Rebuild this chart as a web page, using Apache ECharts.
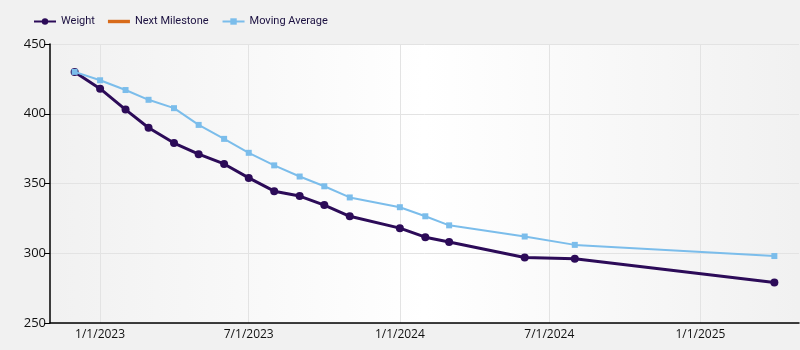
<!DOCTYPE html>
<html>
<head>
<meta charset="utf-8">
<script src="https://cdn.jsdelivr.net/npm/echarts@6/dist/echarts.min.js"></script>
<style>
  html, body { margin: 0; padding: 0; background: #f1f1f1; }
  #chart { width: 800px; height: 350px; }
</style>
</head>
<body>
<div id="chart"></div>
<script>
// Weigh-in dates and readings
const dates = [
  '2022-12-01', '2023-01-01', '2023-02-01', '2023-03-01', '2023-04-01', '2023-05-01',
  '2023-06-01', '2023-07-01', '2023-08-01', '2023-09-01', '2023-10-01', '2023-11-01',
  '2024-01-01', '2024-02-01', '2024-03-01', '2024-06-01', '2024-08-01', '2025-04-01'
];
const weight = [430, 418, 403, 390, 379, 371, 364, 354, 344.5, 341, 334.5, 326.5, 318, 311.5, 308, 297, 296, 279];
const movingAverage = [430, 424, 417, 410, 404, 392, 382, 372, 363, 355, 348, 340, 333, 326.5, 320, 312, 306, 298];
const nextMilestone = [];

// Axis ranges and labelled dates
const xMin = '2022-11-01';
const xMax = '2025-05-01';
const xTicks = ['2023-01-01', '2023-07-01', '2024-01-01', '2024-07-01', '2025-01-01'];
const yMin = 250, yMax = 450, yStep = 50;

const font = 'Open Sans, Noto Sans, sans-serif';
const legendFont = 'Roboto, Open Sans, sans-serif';
const toTime = s => new Date(s + 'T00:00:00').getTime();
const pair = (vals) => dates.map((d, i) => [toTime(d), vals[i]]);
const fmtDate = v => { const d = new Date(v); return (d.getMonth() + 1) + '/' + d.getDate() + '/' + d.getFullYear(); };

const chart = echarts.init(document.getElementById('chart'), null, { renderer: 'canvas' });
chart.setOption({
  backgroundColor: '#f1f1f1',
  animation: false,
  textStyle: { fontFamily: font },
  legend: {
    left: 33, top: 16, padding: 0,
    itemWidth: 22, itemHeight: 8, itemGap: 13,
    textStyle: { fontSize: 11, color: '#1b1040', fontFamily: legendFont },
    data: [
      'Weight',
      // plain bar swatch for the milestone line
      { name: 'Next Milestone', icon: 'path://M0,0L22,0L22,3.4L0,3.4Z' },
      'Moving Average'
    ]
  },
  grid: {
    left: 50, right: 1, top: 44, bottom: 27,
    show: true, borderWidth: 0,
    backgroundColor: new echarts.graphic.LinearGradient(0, 0, 1, 0, [
      { offset: 0, color: '#f1f1f1' },
      { offset: 0.5, color: '#ffffff' },
      { offset: 1, color: '#f1f1f1' }
    ])
  },
  xAxis: {
    type: 'value',
    min: toTime(xMin), max: toTime(xMax),
    axisLine: { show: true, lineStyle: { color: '#000', width: 1.5 } },
    axisTick: { show: false, customValues: xTicks.map(toTime) },
    axisLabel: {
      customValues: xTicks.map(toTime),
      color: '#111', fontSize: 12, fontFamily: font, margin: 6,
      formatter: fmtDate
    },
    splitLine: { show: true, lineStyle: { color: '#e3e3e3', width: 1 } }
  },
  yAxis: {
    type: 'value',
    min: yMin, max: yMax, interval: yStep,
    axisLine: { show: true, lineStyle: { color: '#000', width: 1.5 } },
    axisTick: { show: true, length: 6, lineStyle: { color: '#000' } },
    axisLabel: { color: '#111', fontSize: 13, fontFamily: font, margin: 4 },
    splitLine: { show: true, lineStyle: { color: '#e3e3e3', width: 1 } }
  },
  series: [
    {
      name: 'Weight', type: 'line', data: pair(weight),
      color: '#2c0b58',
      symbol: 'circle', symbolSize: 8,
      lineStyle: { width: 3, color: '#2c0b58' },
      itemStyle: { color: '#2c0b58' },
      z: 2
    },
    {
      name: 'Next Milestone', type: 'line', data: nextMilestone,
      color: '#d86b1a', symbol: 'none',
      lineStyle: { width: 4, color: '#d86b1a' }
    },
    {
      name: 'Moving Average', type: 'line', data: pair(movingAverage),
      color: '#7bbdeb',
      symbol: 'rect', symbolSize: 6,
      lineStyle: { width: 2, color: '#7bbdeb' },
      itemStyle: { color: '#7bbdeb' },
      z: 3
    }
  ]
});
</script>
</body>
</html>
